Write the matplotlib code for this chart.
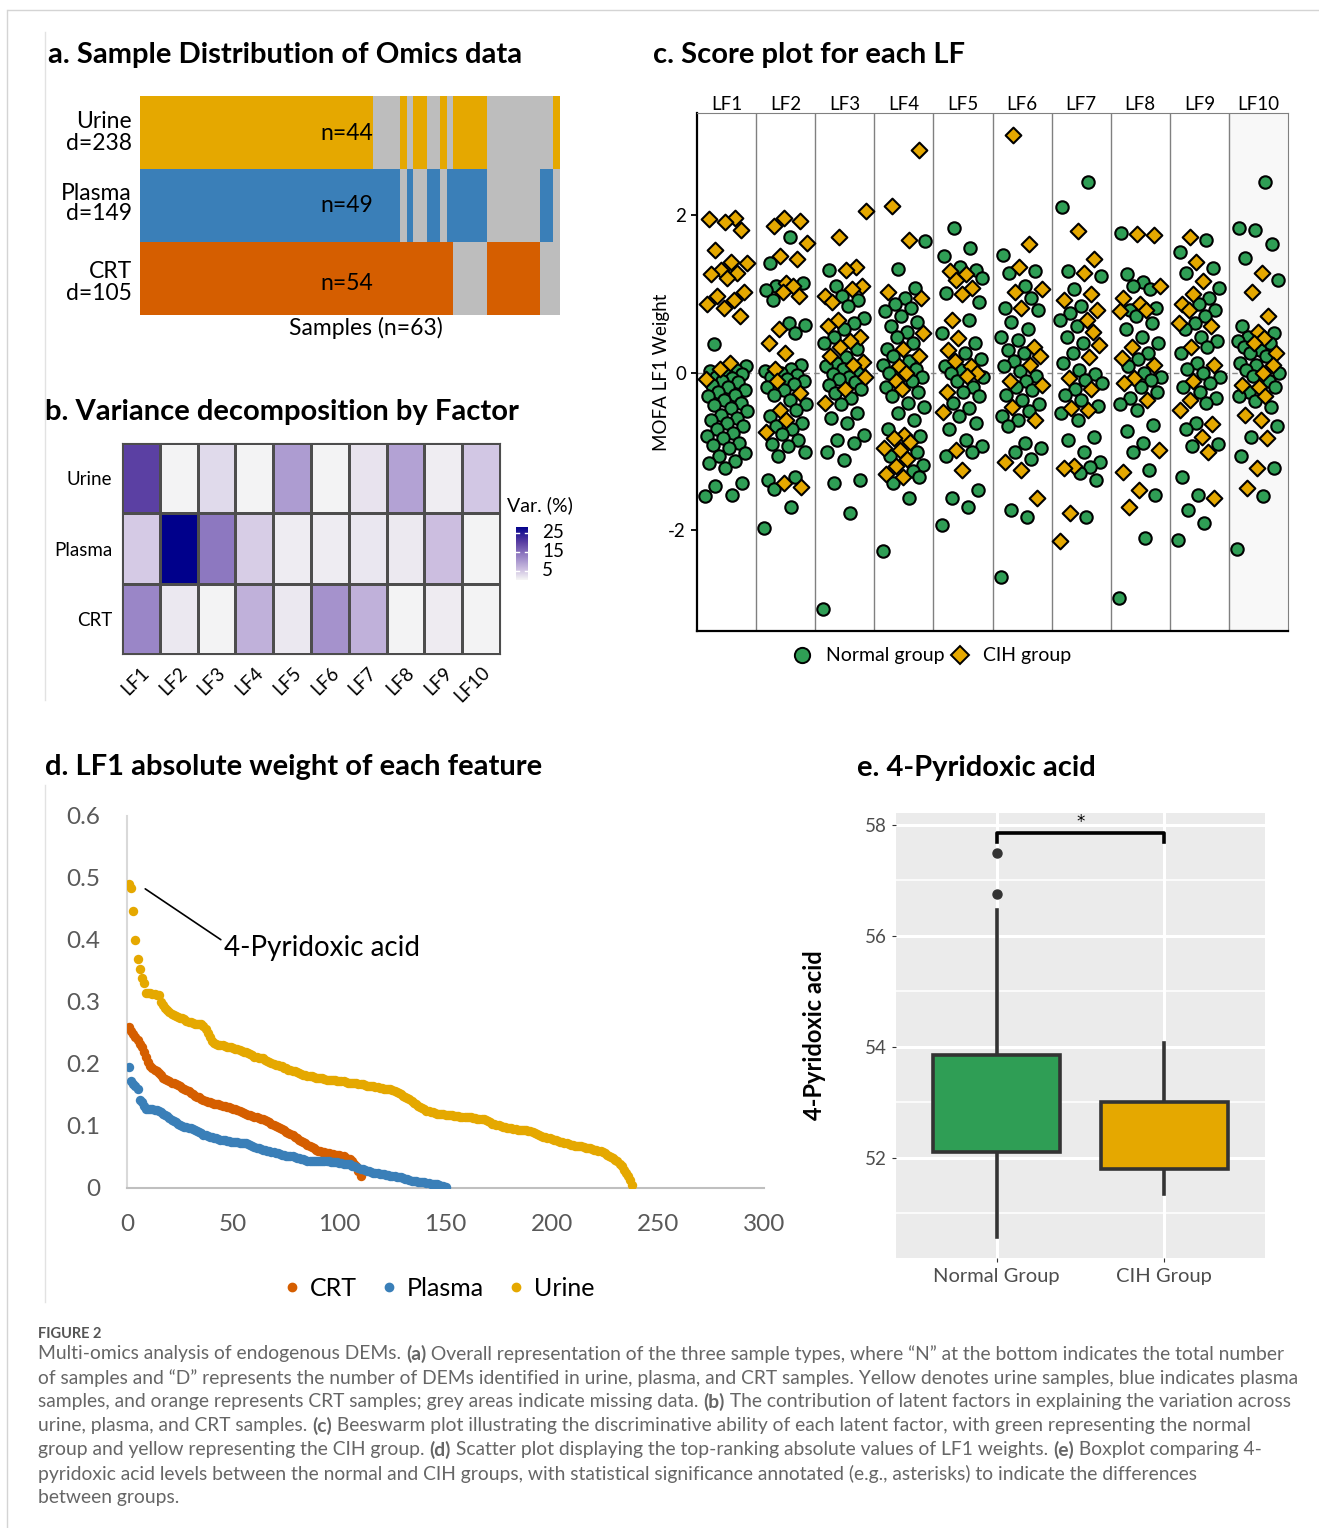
import numpy as np
import matplotlib
matplotlib.use("Agg")
import matplotlib.pyplot as plt
from matplotlib.colors import LinearSegmentedColormap
from matplotlib.lines import Line2D

# ── Data ──────────────────────────────────────────────────────────────────────
# a. sample presence per omics layer as (present, n_samples) runs, 63 samples
OMICS = ["Urine", "Plasma", "CRT"]
OMICS_D = ["d=238", "d=149", "d=105"]
OMICS_N = ["n=44", "n=49", "n=54"]
URINE_RUNS = [(1, 35), (0, 4), (1, 1), (0, 1), (1, 2), (0, 2), (1, 1), (0, 1), (1, 5), (0, 10), (1, 1)]
PLASMA_RUNS = [(1, 39), (0, 1), (1, 1), (0, 2), (1, 2), (0, 1), (1, 6), (0, 8), (1, 2), (0, 1)]
CRT_RUNS = [(1, 47), (0, 5), (1, 8), (0, 3)]

# b. variance explained (%) per factor
LF_NAMES = ["LF1", "LF2", "LF3", "LF4", "LF5", "LF6", "LF7", "LF8", "LF9", "LF10"]
VAR_URINE = [19.5, 0.3, 2.8, 0.3, 9.5, 0.3, 1.8, 8.7, 0.8, 4.6]
VAR_PLASMA = [4.3, 28.0, 13.5, 4.0, 0.9, 0.9, 1.5, 1.3, 5.5, 0.3]
VAR_CRT = [12.0, 1.4, 0.3, 7.0, 1.4, 10.5, 7.0, 0.3, 1.0, 0.3]

# c. factor scores per LF (normal / CIH)
NORMAL = [
    [0.36, 0.08, 0.04, 0.02, 0.0, -0.02, -0.05, -0.06, -0.1, -0.12, -0.15, -0.18, -0.22, -0.25,
     -0.28, -0.3, -0.34, -0.38, -0.41, -0.45, -0.49, -0.53, -0.57, -0.6, -0.64, -0.68, -0.72,
     -0.77, -0.8, -0.83, -0.89, -0.92, -0.96, -1.02, -1.06, -1.12, -1.15, -1.21, -1.4, -1.44, -1.55, -1.57],
    [1.73, 1.39, 1.14, 1.1, 1.05, 0.93, 0.63, 0.61, 0.51, 0.1, 0.05, 0.02, 0.0, -0.03, -0.05, -0.08,
     -0.1, -0.14, -0.18, -0.22, -0.28, -0.34, -0.4, -0.47, -0.55, -0.64, -0.68, -0.72, -0.78, -0.85,
     -0.9, -0.93, -1.0, -1.06, -1.32, -1.36, -1.47, -1.7, -1.97],
    [1.31, 1.1, 0.97, 0.92, 0.85, 0.7, 0.63, 0.55, 0.45, 0.38, 0.3, 0.2, 0.12, 0.08, 0.05, 0.02, -0.02,
     -0.05, -0.08, -0.12, -0.16, -0.2, -0.26, -0.32, -0.4, -0.51, -0.58, -0.64, -0.79, -0.85, -0.89,
     -1.0, -1.11, -1.36, -1.4, -1.78, -3.0],
    [1.67, 1.32, 1.08, 0.95, 0.88, 0.82, 0.78, 0.72, 0.65, 0.6, 0.52, 0.46, 0.38, 0.3, 0.21, 0.15, 0.1,
     0.05, 0.0, -0.05, -0.1, -0.18, -0.25, -0.3, -0.38, -0.43, -0.51, -0.6, -0.72, -0.8, -1.0, -1.06,
     -1.17, -1.25, -1.32, -1.4, -1.59, -2.27],
    [1.84, 1.59, 1.48, 1.35, 1.31, 1.2, 1.01, 0.9, 0.67, 0.5, 0.38, 0.25, 0.17, 0.08, 0.03, 0.0, -0.05,
     -0.1, -0.18, -0.25, -0.3, -0.38, -0.45, -0.55, -0.64, -0.72, -0.85, -0.93, -1.0, -1.06, -1.49,
     -1.59, -1.7, -1.93],
    [1.5, 1.29, 1.27, 1.1, 0.95, 0.82, 0.8, 0.65, 0.55, 0.46, 0.42, 0.29, 0.25, 0.15, 0.08, 0.02, -0.04,
     -0.1, -0.18, -0.22, -0.28, -0.35, -0.4, -0.48, -0.55, -0.6, -0.68, -0.89, -0.95, -1.0, -1.1,
     -1.74, -1.83, -2.59],
    [2.42, 2.1, 1.29, 1.23, 1.06, 0.85, 0.76, 0.67, 0.59, 0.46, 0.38, 0.25, 0.13, 0.04, -0.02, -0.09,
     -0.13, -0.2, -0.28, -0.35, -0.42, -0.51, -0.6, -0.81, -0.85, -1.0, -1.13, -1.2, -1.27, -1.36, -1.83],
    [1.78, 1.25, 1.15, 1.1, 1.06, 0.82, 0.8, 0.72, 0.63, 0.55, 0.46, 0.38, 0.25, 0.17, 0.08, 0.0, -0.05,
     -0.09, -0.18, -0.25, -0.32, -0.4, -0.47, -0.66, -0.74, -0.89, -1.0, -1.24, -1.55, -2.1, -2.86],
    [1.69, 1.54, 1.33, 1.27, 1.08, 0.95, 0.88, 0.8, 0.72, 0.63, 0.55, 0.46, 0.4, 0.33, 0.25, 0.13, 0.05,
     0.0, -0.05, -0.13, -0.18, -0.25, -0.32, -0.38, -0.64, -0.72, -0.9, -0.93, -1.32, -1.55, -1.74,
     -1.91, -2.12],
    [2.42, 1.84, 1.82, 1.63, 1.46, 1.18, 0.59, 0.51, 0.46, 0.4, 0.38, 0.33, 0.29, 0.25, 0.21, 0.13, 0.1,
     0.04, 0.0, -0.04, -0.1, -0.18, -0.25, -0.3, -0.36, -0.43, -0.68, -0.81, -1.06, -1.21, -1.57, -2.24],
]
CIH = [
    [1.97, 1.95, 1.92, 1.82, 1.56, 1.41, 1.39, 1.31, 1.27, 1.26, 1.2, 1.03, 0.98, 0.93, 0.88, 0.82,
     0.72, 0.12, 0.05, -0.08],
    [1.97, 1.93, 1.86, 1.65, 1.48, 1.45, 1.14, 1.1, 1.03, 0.97, 0.55, 0.38, 0.25, 0.05, -0.1, -0.26,
     -0.47, -0.6, -0.75, -1.4, -1.45],
    [2.06, 1.73, 1.35, 1.3, 1.1, 1.06, 0.97, 0.9, 0.67, 0.6, 0.46, 0.4, 0.33, 0.21, 0.14, 0.1, -0.05,
     -0.2, -0.39],
    [2.83, 2.12, 1.69, 1.03, 0.95, 0.5, 0.3, 0.21, 0.08, 0.0, -0.1, -0.2, -0.79, -0.83, -0.88, -0.96,
     -0.98, -1.1, -1.19, -1.28, -1.32],
    [1.29, 1.25, 1.18, 1.08, 1.0, 0.67, 0.44, 0.29, 0.15, 0.08, 0.0, -0.04, -0.24, -0.5, -0.98, -1.24],
    [3.02, 1.63, 1.35, 1.06, 1.02, 0.82, 0.33, 0.21, 0.1, -0.1, -0.15, -0.43, -0.6, -1.13, -1.24, -1.59],
    [1.8, 1.44, 1.27, 1.0, 0.93, 0.8, 0.67, 0.52, 0.35, 0.2, -0.07, -0.2, -0.45, -0.47, -1.19, -1.21,
     -1.78, -2.14],
    [1.76, 1.75, 1.1, 0.95, 0.88, 0.8, 0.78, 0.33, 0.19, 0.1, -0.07, -0.13, -0.35, -0.98, -1.26, -1.49, -1.7],
    [1.72, 1.41, 1.16, 1.0, 0.88, 0.8, 0.63, 0.59, 0.33, 0.1, -0.1, -0.34, -0.47, -0.65, -0.81, -1.0, -1.59],
    [1.27, 1.03, 0.72, 0.52, 0.44, 0.38, 0.25, 0.1, 0.0, -0.15, -0.18, -0.3, -0.54, -0.6, -0.83, -1.21, -1.46],
]

# d. LF1 absolute weights, sorted by rank
W_URINE = [
    0.490, 0.484, 0.446, 0.400, 0.369, 0.354, 0.338, 0.331,
    0.315, 0.314, 0.314, 0.313, 0.313, 0.312, 0.311,
    0.300, 0.295, 0.290, 0.287, 0.284, 0.281, 0.279, 0.277, 0.276, 0.275,
    0.274, 0.272, 0.270, 0.268, 0.267, 0.266, 0.265, 0.265, 0.264, 0.264,
    0.262, 0.257, 0.250, 0.243, 0.237, 0.234, 0.232, 0.231, 0.230, 0.230,
    0.229, 0.228, 0.228, 0.227, 0.226, 0.225, 0.224, 0.222, 0.221, 0.220,
    0.219, 0.218, 0.216, 0.214, 0.212, 0.211, 0.210, 0.210, 0.209, 0.207,
    0.205, 0.203, 0.202, 0.200, 0.199, 0.198, 0.197, 0.196, 0.194, 0.193,
    0.191, 0.190, 0.189, 0.188, 0.187, 0.186, 0.184, 0.183, 0.182, 0.181,
    0.180, 0.180, 0.179, 0.178, 0.178, 0.177, 0.177, 0.176, 0.175,
    0.175, 0.174, 0.174, 0.174, 0.173, 0.173, 0.172, 0.172,
    0.171, 0.170, 0.170, 0.169, 0.169, 0.169, 0.168, 0.168,
    0.167, 0.166, 0.165, 0.165, 0.164, 0.164, 0.163, 0.163, 0.162, 0.161,
    0.160, 0.160, 0.159, 0.159, 0.158, 0.157, 0.155, 0.153, 0.151, 0.149,
    0.147, 0.145, 0.143, 0.140, 0.137, 0.135, 0.133, 0.131, 0.129, 0.127,
    0.125, 0.124, 0.123, 0.122, 0.121, 0.120, 0.120, 0.119, 0.119, 0.118,
    0.118, 0.117, 0.117, 0.116, 0.116, 0.116, 0.115, 0.115, 0.115, 0.114,
    0.114, 0.114, 0.113, 0.113, 0.112, 0.112, 0.111, 0.111, 0.110, 0.108,
    0.106, 0.104, 0.103, 0.102, 0.101, 0.100, 0.099, 0.098, 0.097, 0.096,
    0.096, 0.095, 0.095, 0.094, 0.094, 0.093, 0.093, 0.093, 0.092, 0.092,
    0.091, 0.089, 0.087, 0.085, 0.084, 0.083, 0.082, 0.081, 0.080, 0.079,
    0.078, 0.077, 0.076, 0.075, 0.074, 0.073, 0.072, 0.071, 0.070, 0.069,
    0.068, 0.068, 0.067, 0.067, 0.066, 0.065, 0.064, 0.064, 0.063, 0.062,
    0.061, 0.060, 0.059, 0.058, 0.056, 0.054, 0.052, 0.050, 0.048, 0.045,
    0.043, 0.039, 0.035, 0.029, 0.024, 0.019, 0.013, 0.005,
]
W_PLASMA = [
    0.195, 0.173, 0.168, 0.165, 0.159, 0.142, 0.138, 0.133,
    0.128, 0.127, 0.127, 0.127, 0.126, 0.126, 0.125,
    0.123, 0.120, 0.118, 0.116, 0.113,
    0.110, 0.108, 0.106, 0.104, 0.102, 0.100, 0.099, 0.098, 0.097, 0.096,
    0.095, 0.094, 0.092, 0.090, 0.088, 0.086, 0.085, 0.084, 0.083, 0.082,
    0.081, 0.080, 0.079, 0.078, 0.077, 0.077, 0.076, 0.076, 0.075, 0.075,
    0.074, 0.074, 0.073, 0.073, 0.073, 0.072, 0.071, 0.069, 0.068, 0.066,
    0.065, 0.064, 0.063, 0.062, 0.061, 0.060, 0.059, 0.058, 0.058, 0.057,
    0.056, 0.055, 0.054, 0.053, 0.052, 0.052, 0.051, 0.051, 0.050, 0.049,
    0.048, 0.047, 0.046, 0.045, 0.043, 0.043, 0.043, 0.043, 0.043, 0.043,
    0.043, 0.043, 0.043, 0.043, 0.043, 0.042, 0.042, 0.042, 0.042, 0.041,
    0.040, 0.039, 0.039, 0.038, 0.038, 0.036, 0.035, 0.034, 0.032, 0.031,
    0.030, 0.029, 0.028, 0.027, 0.026, 0.025, 0.025, 0.024, 0.023, 0.022,
    0.022, 0.021, 0.021, 0.020, 0.020, 0.019, 0.018, 0.017, 0.017, 0.016,
    0.015, 0.014, 0.013, 0.012, 0.011, 0.011, 0.010, 0.010, 0.009, 0.009,
    0.008, 0.008, 0.007, 0.007, 0.006, 0.006, 0.005, 0.004, 0.003, 0.002,
]
W_CRT = [
    0.259, 0.254, 0.249, 0.244, 0.238, 0.232, 0.227, 0.219, 0.211, 0.204,
    0.197, 0.194, 0.191, 0.189, 0.186, 0.183, 0.178, 0.176, 0.174, 0.172,
    0.170, 0.169, 0.168, 0.166, 0.164, 0.162, 0.160, 0.158, 0.156, 0.154,
    0.151, 0.149, 0.147, 0.146, 0.144, 0.142, 0.141, 0.139, 0.138, 0.137,
    0.136, 0.135, 0.135, 0.134, 0.133, 0.132, 0.131, 0.130, 0.129, 0.128,
    0.127, 0.126, 0.124, 0.123, 0.121, 0.120, 0.118, 0.117, 0.116, 0.115,
    0.114, 0.113, 0.112, 0.111, 0.110, 0.108, 0.106, 0.104, 0.102, 0.100,
    0.098, 0.096, 0.095, 0.093, 0.091, 0.089, 0.087, 0.085, 0.082, 0.080,
    0.078, 0.076, 0.074, 0.072, 0.070, 0.068, 0.066, 0.064, 0.062, 0.060,
    0.059, 0.058, 0.058, 0.057, 0.056, 0.055, 0.055, 0.054, 0.054, 0.053,
    0.052, 0.051, 0.049, 0.047, 0.046, 0.043, 0.039, 0.035, 0.027, 0.019,
]

# e. 4-pyridoxic acid boxplot statistics
GROUPS = ["Normal Group", "CIH Group"]
BOX_MED = [52.90, 52.22]
BOX_Q1 = [52.11, 51.81]
BOX_Q3 = [53.86, 53.01]
BOX_LO = [50.58, 51.36]
BOX_HI = [56.47, 54.07]
BOX_OUT = [[57.50, 56.75], []]

CAPTION = [
    [("Multi-omics analysis of endogenous DEMs. ", 0), ("(a)", 1),
     (" Overall representation of the three sample types, where \u201cN\u201d at the bottom indicates the total number", 0)],
    [("of samples and \u201cD\u201d represents the number of DEMs identified in urine, plasma, and CRT samples. Yellow denotes urine samples, blue indicates plasma", 0)],
    [("samples, and orange represents CRT samples; grey areas indicate missing data. ", 0), ("(b)", 1),
     (" The contribution of latent factors in explaining the variation across", 0)],
    [("urine, plasma, and CRT samples. ", 0), ("(c)", 1),
     (" Beeswarm plot illustrating the discriminative ability of each latent factor, with green representing the normal", 0)],
    [("group and yellow representing the CIH group. ", 0), ("(d)", 1),
     (" Scatter plot displaying the top-ranking absolute values of LF1 weights. ", 0), ("(e)", 1),
     (" Boxplot comparing 4-", 0)],
    [("pyridoxic acid levels between the normal and CIH groups, with statistical significance annotated (e.g., asterisks) to indicate the differences", 0)],
    [("between groups.", 0)],
]

# ── Style ─────────────────────────────────────────────────────────────────────
YELLOW = "#e5a800"
BLUE = "#3a7fb8"
ORANGE = "#d55e00"
GREY = "#bdbdbd"
GREEN = "#2f9e55"
OMICS_COLORS = [YELLOW, BLUE, ORANGE]

plt.rcParams["font.family"] = ["Lato", "DejaVu Sans"]

W, H = 1319, 1528
fig = plt.figure(figsize=(W / 100, H / 100), dpi=100)


def px_axes(x0, y0, x1, y1):
    return fig.add_axes([x0 / W, 1 - y1 / H, (x1 - x0) / W, (y1 - y0) / H])


def ftext(x, y, s, **kw):
    return fig.text(x / W, 1 - y / H, s, **kw)


def fline(xs, ys, **kw):
    fig.add_artist(Line2D([x / W for x in xs], [1 - y / H for y in ys], **kw))


# frame lines of the figure page
fline([8, W], [10, 10], color="#d4d4d4", lw=1)
fline([7, 7], [10, H], color="#d4d4d4", lw=1)
fline([45, 45], [32, 700], color="#e2e2e2", lw=1)
fline([45, 45], [785, 1302], color="#e2e2e2", lw=1)

TITLE_KW = dict(fontsize=21, fontweight="bold", va="center", ha="left", color="black")

# ── a. Sample distribution ────────────────────────────────────────────────────
ftext(48, 55, "a. Sample Distribution of Omics data", **TITLE_KW)
axa = px_axes(140, 95.5, 560, 314.5)
for row, runs in enumerate([URINE_RUNS, PLASMA_RUNS, CRT_RUNS]):
    start = 0
    for present, count in runs:
        axa.barh(row, count, left=start, height=1.0,
                 color=OMICS_COLORS[row] if present else GREY, edgecolor="none")
        start += count
axa.set_xlim(0, 63)
axa.set_ylim(2.5, -0.5)
axa.axis("off")
for (name, d, n), yc in zip(zip(OMICS, OMICS_D, OMICS_N), [122, 193, 272]):
    ftext(132, yc, name, fontsize=16.5, ha="right", va="center")
    ftext(132, yc + 21, d, fontsize=16.5, ha="right", va="center")
    ftext(373, yc + 12, n, fontsize=16.5, ha="right", va="center")
ftext(366, 328, "Samples (n=63)", fontsize=16.5, ha="center", va="center")

# ── b. Variance decomposition ─────────────────────────────────────────────────
ftext(45, 412, "b. Variance decomposition by Factor", **TITLE_KW)
cmap = LinearSegmentedColormap.from_list(
    "mofa", [(0, "#f5f5f5"), (0.2, "#cbbde0"), (0.45, "#9580c4"), (0.7, "#5b3fa3"), (1.0, "#00008b")])
axb = px_axes(122, 443, 500, 654)
var = np.array([VAR_URINE, VAR_PLASMA, VAR_CRT])
axb.pcolormesh(var, cmap=cmap, vmin=0, vmax=28, edgecolors="#4d4d4d", linewidth=1)
axb.set_ylim(3, 0)
axb.set_xlim(0, 10)
axb.set_yticks(np.arange(3) + 0.5, OMICS, fontsize=13.5)
axb.set_xticks(np.arange(10) + 0.5, LF_NAMES, fontsize=13.5, rotation=45, ha="right",
               rotation_mode="anchor")
axb.tick_params(length=0, pad=7)
for s in axb.spines.values():
    s.set_edgecolor("#4d4d4d")
ftext(507, 505, "Var. (%)", fontsize=14, ha="left", va="center")
axcb = px_axes(516, 527, 528, 580)
axcb.imshow(np.linspace(28, 0, 100)[:, None], aspect="auto", cmap=cmap, vmin=0, vmax=28,
            extent=[0, 1, 0, 28])
for t in [5, 15, 25]:
    axcb.plot([0, 0.25], [t, t], color="white", lw=1)
    axcb.plot([0.75, 1], [t, t], color="white", lw=1)
    ftext(542, 580 - t * 53 / 28, str(t), fontsize=13.5, ha="left", va="center")
axcb.set_xlim(0, 1)
axcb.set_ylim(0, 28)
axcb.axis("off")

# ── c. Score plot ─────────────────────────────────────────────────────────────
ftext(653, 55, "c. Score plot for each LF", **TITLE_KW)
axc = px_axes(697, 113, 1288, 631)
axc.set_xlim(0, 10)
axc.set_ylim(-3.28, 3.30)
axc.axvspan(9, 10, color="#f8f8f8", zorder=0)
axc.axhline(0, color="#8c8c8c", lw=1, ls=(0, (4, 3)), zorder=1)
for k in range(1, 10):
    axc.axvline(k, color="#808080", lw=1, zorder=1)
GOLD = 0.6180339887
for k in range(10):
    vals = np.array(NORMAL[k] + CIH[k])
    is_cih = np.array([0] * len(NORMAL[k]) + [1] * len(CIH[k]))
    offs = np.empty(len(vals))
    for rank, idx in enumerate(np.argsort(vals)):
        offs[idx] = ((rank * GOLD) % 1.0 - 0.5) * 0.72
    xs = k + 0.5 + offs
    axc.scatter(xs[is_cih == 0], vals[is_cih == 0], s=80, marker="o", facecolor=GREEN,
                edgecolor="black", linewidth=1.5, zorder=3)
    axc.scatter(xs[is_cih == 1], vals[is_cih == 1], s=64, marker="D", facecolor=YELLOW,
                edgecolor="black", linewidth=1.5, zorder=4)
    axc.text(k + 0.5, 1.0, LF_NAMES[k], transform=axc.get_xaxis_transform(),
             ha="center", va="bottom", fontsize=13.5)
axc.set_xticks([])
axc.set_yticks([-2, 0, 2], ["-2", "0", "2"], fontsize=13.5)
axc.tick_params(axis="y", length=4, width=1.3, color="black", pad=4)
axc.spines["left"].set_linewidth(1.6)
axc.spines["bottom"].set_linewidth(1.6)
for s in ["top", "right"]:
    axc.spines[s].set_edgecolor("#808080")
ftext(661, 372, "MOFA LF1 Weight", fontsize=13.5, rotation=90, ha="center", va="center")
fig.legend(handles=[Line2D([], [], ls="", marker="o", ms=11, mfc=GREEN, mec="black", mew=1.4),
                    Line2D([], [], ls="", marker="D", ms=9, mfc=YELLOW, mec="black", mew=1.4)],
           labels=["Normal group", "CIH group"], loc="center",
           bbox_to_anchor=(931 / W, 1 - 656 / H), ncol=2, frameon=False, fontsize=14,
           handletextpad=0.6, columnspacing=0.2, handlelength=1.2)

# ── d. LF1 absolute weights ───────────────────────────────────────────────────
ftext(45, 767, "d. LF1 absolute weight of each feature", **TITLE_KW)
axd = px_axes(127, 816, 764, 1188)
series_d = [("CRT", W_CRT, ORANGE), ("Plasma", W_PLASMA, BLUE), ("Urine", W_URINE, YELLOW)]
for name, vals, col in series_d:
    axd.scatter(np.arange(1, len(vals) + 1), vals, s=46, color=col, linewidth=0, zorder=3)
axd.set_xlim(0, 300)
axd.set_ylim(0, 0.6)
axd.set_xticks(np.arange(0, 301, 50))
axd.set_yticks(np.arange(0, 0.61, 0.1), ["0", "0.1", "0.2", "0.3", "0.4", "0.5", "0.6"])
axd.tick_params(length=0, labelsize=17.5, labelcolor="#595959", pad=19)
for s in ["top", "right"]:
    axd.spines[s].set_visible(False)
axd.spines["left"].set_edgecolor("#d9d9d9")
axd.spines["left"].set_linewidth(1.5)
axd.spines["bottom"].set_edgecolor("#bfbfbf")
axd.spines["bottom"].set_linewidth(1.5)
axd.annotate("4-Pyridoxic acid", xy=(7.5, 0.485), xytext=(45.5, 0.387), fontsize=20,
             ha="left", va="center",
             arrowprops=dict(arrowstyle="-", color="black", lw=1.2, shrinkA=0, shrinkB=2,
                             relpos=(0, 0.75)))
fig.legend(handles=[Line2D([], [], ls="", marker="o", ms=6, color=c) for _, _, c in series_d],
           labels=[n for n, _, _ in series_d], loc="center",
           bbox_to_anchor=(438 / W, 1 - 1288 / H), ncol=3, frameon=False, fontsize=18,
           handletextpad=0.3, columnspacing=0.9, handlelength=0.8)

# ── e. 4-Pyridoxic acid boxplot ───────────────────────────────────────────────
ftext(857, 768, "e. 4-Pyridoxic acid", **TITLE_KW)
axe = px_axes(896, 813, 1265, 1258)
axe.set_facecolor("#ebebeb")
stats = [dict(med=BOX_MED[i], q1=BOX_Q1[i], q3=BOX_Q3[i], whislo=BOX_LO[i], whishi=BOX_HI[i],
              fliers=BOX_OUT[i]) for i in range(2)]
bp = axe.bxp(stats, positions=[1, 2], widths=0.76, patch_artist=True, showcaps=False,
             boxprops=dict(edgecolor="#333333", linewidth=2.6),
             medianprops=dict(color="#333333", linewidth=5),
             whiskerprops=dict(color="#333333", linewidth=2.6),
             flierprops=dict(marker="o", mfc="#333333", mec="#333333", ms=6.5))
for patch, col in zip(bp["boxes"], [GREEN, YELLOW]):
    patch.set_facecolor(col)
    patch.set_zorder(3)
axe.set_xlim(0.4, 2.6)
axe.set_ylim(50.198, 58.216)
axe.set_yticks([52, 54, 56, 58])
axe.set_yticks([51, 53, 55, 57], minor=True)
axe.set_xticks([1, 2], GROUPS)
axe.grid(which="major", color="white", lw=2.2, zorder=0)
axe.grid(which="minor", axis="y", color="white", lw=1.1, zorder=0)
axe.set_axisbelow(True)
axe.tick_params(which="major", length=3, color="#333333", labelsize=13.5, labelcolor="#4d4d4d")
axe.tick_params(axis="x", labelsize=14.5, pad=4)
axe.tick_params(which="minor", length=0)
for s in axe.spines.values():
    s.set_visible(False)
axe.plot([1, 1, 2, 2], [57.70, 57.86, 57.86, 57.70], color="black", lw=2.6, zorder=4)
axe.text(1.5, 57.90, "*", ha="center", va="bottom", fontsize=12, family="DejaVu Sans")
ftext(815, 1035, "4-Pyridoxic acid", fontsize=17, fontweight="bold", rotation=90,
      ha="center", va="center")

# ── Caption ───────────────────────────────────────────────────────────────────
ftext(38, 1334, "FIGURE 2", fontsize=10.5, color="#555555", fontweight="bold", va="center")
renderer = fig.canvas.get_renderer()
for i, parts in enumerate(CAPTION):
    x = 38
    for s, bold in parts:
        t = ftext(x, 1354 + 24 * i, s, fontsize=13.85, color="#666666", va="center",
                  fontweight="bold" if bold else "normal")
        x += t.get_window_extent(renderer).width

fig.savefig("out.png", dpi=100)
